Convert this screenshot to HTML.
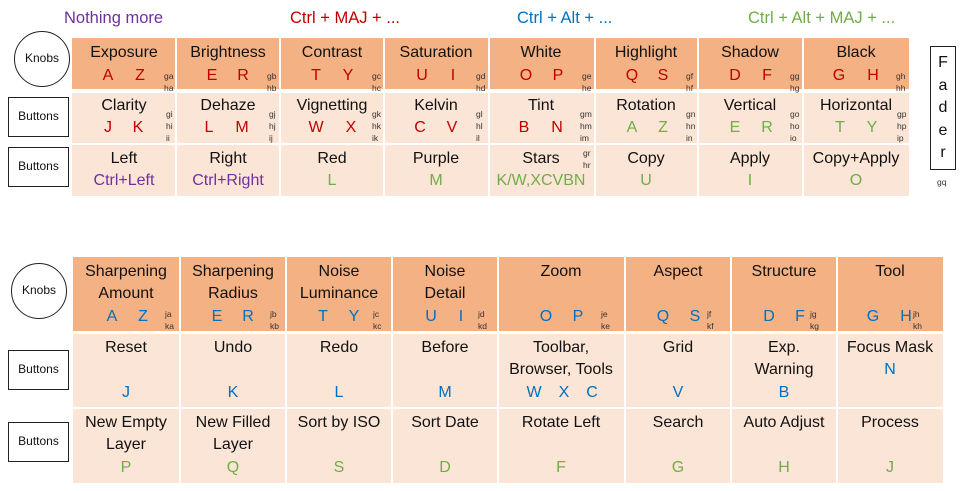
<!DOCTYPE html>
<html><head><meta charset="utf-8">
<style>
body{margin:0;width:960px;height:491px;background:#fff;position:relative;overflow:hidden;font-family:"Liberation Sans",sans-serif;color:#111}
.c{position:absolute;box-sizing:border-box}
.o{background:#F4B183}.l{background:#FBE5D6}
.t{position:absolute;height:22px;line-height:22px;text-align:center;white-space:nowrap;font-size:16px;width:160px;margin-left:-80px}
.k{position:absolute;height:22px;line-height:22px;text-align:center;white-space:nowrap;font-size:16px;width:40px;margin-left:-20px}
.s{position:absolute;font-size:8.5px;line-height:12px;color:#333;white-space:nowrap}
.r{color:#C00000}.g{color:#70AD47}.b{color:#0070C0}.p{color:#7030A0}
.h{position:absolute;top:7px;font-size:16.5px;white-space:nowrap;height:22px;line-height:22px}
.circ{position:absolute;border:1.5px solid #222;border-radius:50%;box-sizing:border-box;font-size:12px;text-align:center}
.box{position:absolute;border:1.5px solid #222;box-sizing:border-box;font-size:12px;text-align:center}
</style></head><body>
<div class="h p" style="left:64px">Nothing more</div>
<div class="h r" style="left:290px">Ctrl + MAJ + ...</div>
<div class="h b" style="left:517px">Ctrl + Alt + ...</div>
<div class="h g" style="left:748px">Ctrl + Alt + MAJ + ...</div>

<div class="circ" style="left:14px;top:31px;width:56px;height:56px;line-height:53px">Knobs</div>
<div class="box" style="left:8px;top:97px;width:61px;height:40px;line-height:37px">Buttons</div>
<div class="box" style="left:8px;top:147px;width:61px;height:40px;line-height:37px">Buttons</div>
<div class="box" style="left:930px;top:46px;width:26px;height:124px;font-size:16px;line-height:22.5px;padding-top:5px">F<br>a<br>d<br>e<br>r</div>
<div class="s" style="left:937px;top:176px">gq</div>

<!-- top table -->
<div class="c o" style="left:72px;top:38px;width:837px;height:51px"></div>
<div class="c l" style="left:72px;top:93px;width:837px;height:50px"></div>
<div class="c l" style="left:72px;top:144px;width:837px;height:52px"></div>
<div class="c" style="left:72px;top:89px;width:837px;height:4px;background:#fff"></div>
<div class="c" style="left:72px;top:143px;width:837px;height:1.5px;background:#fff"></div>
<div class="c" style="left:175px;top:38px;width:2px;height:158px;background:#fff"></div>
<div class="c" style="left:279px;top:38px;width:2px;height:158px;background:#fff"></div>
<div class="c" style="left:383px;top:38px;width:2px;height:158px;background:#fff"></div>
<div class="c" style="left:488px;top:38px;width:2px;height:158px;background:#fff"></div>
<div class="c" style="left:594px;top:38px;width:2px;height:158px;background:#fff"></div>
<div class="c" style="left:697px;top:38px;width:2px;height:158px;background:#fff"></div>
<div class="c" style="left:802px;top:38px;width:2px;height:158px;background:#fff"></div>

<!-- row1 -->
<div class="t" style="left:124px;top:42px">Exposure</div><div class="k r" style="left:108px;top:65px">A</div><div class="k r" style="left:140px;top:65px">Z</div><div class="s" style="left:164px;top:70px">ga<br>ha</div>
<div class="t" style="left:228px;top:42px">Brightness</div><div class="k r" style="left:212px;top:65px">E</div><div class="k r" style="left:243px;top:65px">R</div><div class="s" style="left:267px;top:70px">gb<br>hb</div>
<div class="t" style="left:332px;top:42px">Contrast</div><div class="k r" style="left:316px;top:65px">T</div><div class="k r" style="left:348px;top:65px">Y</div><div class="s" style="left:372px;top:70px">gc<br>hc</div>
<div class="t" style="left:436px;top:42px">Saturation</div><div class="k r" style="left:422px;top:65px">U</div><div class="k r" style="left:453px;top:65px">I</div><div class="s" style="left:476px;top:70px">gd<br>hd</div>
<div class="t" style="left:541px;top:42px">White</div><div class="k r" style="left:526px;top:65px">O</div><div class="k r" style="left:558px;top:65px">P</div><div class="s" style="left:582px;top:70px">ge<br>he</div>
<div class="t" style="left:646px;top:42px">Highlight</div><div class="k r" style="left:632px;top:65px">Q</div><div class="k r" style="left:663px;top:65px">S</div><div class="s" style="left:686px;top:70px">gf<br>hf</div>
<div class="t" style="left:750px;top:42px">Shadow</div><div class="k r" style="left:735px;top:65px">D</div><div class="k r" style="left:767px;top:65px">F</div><div class="s" style="left:790px;top:70px">gg<br>hg</div>
<div class="t" style="left:856px;top:42px">Black</div><div class="k r" style="left:839px;top:65px">G</div><div class="k r" style="left:873px;top:65px">H</div><div class="s" style="left:896px;top:70px">gh<br>hh</div>
<!-- row2 -->
<div class="t" style="left:124px;top:95px">Clarity</div><div class="k r" style="left:108px;top:117px">J</div><div class="k r" style="left:138px;top:117px">K</div><div class="s" style="left:166px;top:108px">gi<br>hi<br>ii</div>
<div class="t" style="left:228px;top:95px">Dehaze</div><div class="k r" style="left:209px;top:117px">L</div><div class="k r" style="left:242px;top:117px">M</div><div class="s" style="left:269px;top:108px">gj<br>hj<br>ij</div>
<div class="t" style="left:332px;top:95px">Vignetting</div><div class="k r" style="left:316px;top:117px">W</div><div class="k r" style="left:351px;top:117px">X</div><div class="s" style="left:372px;top:108px">gk<br>hk<br>ik</div>
<div class="t" style="left:436px;top:95px">Kelvin</div><div class="k r" style="left:420px;top:117px">C</div><div class="k r" style="left:452px;top:117px">V</div><div class="s" style="left:476px;top:108px">gl<br>hl<br>il</div>
<div class="t" style="left:541px;top:95px">Tint</div><div class="k r" style="left:524px;top:117px">B</div><div class="k r" style="left:557px;top:117px">N</div><div class="s" style="left:580px;top:108px">gm<br>hm<br>im</div>
<div class="t" style="left:646px;top:95px">Rotation</div><div class="k g" style="left:632px;top:117px">A</div><div class="k g" style="left:663px;top:117px">Z</div><div class="s" style="left:686px;top:108px">gn<br>hn<br>in</div>
<div class="t" style="left:750px;top:95px">Vertical</div><div class="k g" style="left:735px;top:117px">E</div><div class="k g" style="left:767px;top:117px">R</div><div class="s" style="left:790px;top:108px">go<br>ho<br>io</div>
<div class="t" style="left:856px;top:95px">Horizontal</div><div class="k g" style="left:840px;top:117px">T</div><div class="k g" style="left:872px;top:117px">Y</div><div class="s" style="left:897px;top:108px">gp<br>hp<br>ip</div>
<!-- row3 -->
<div class="t" style="left:124px;top:148px">Left</div><div class="t p" style="left:124px;top:170px">Ctrl+Left</div>
<div class="t" style="left:228px;top:148px">Right</div><div class="t p" style="left:228px;top:170px">Ctrl+Right</div>
<div class="t" style="left:332px;top:148px">Red</div><div class="t g" style="left:332px;top:170px">L</div>
<div class="t" style="left:436px;top:148px">Purple</div><div class="t g" style="left:436px;top:170px">M</div>
<div class="t" style="left:541px;top:148px">Stars</div><div class="t g" style="left:541px;top:170px">K/W,XCVBN</div><div class="s" style="left:583px;top:147px">gr<br>hr</div>
<div class="t" style="left:646px;top:148px">Copy</div><div class="t g" style="left:646px;top:170px">U</div>
<div class="t" style="left:750px;top:148px">Apply</div><div class="t g" style="left:750px;top:170px">I</div>
<div class="t" style="left:856px;top:148px">Copy+Apply</div><div class="t g" style="left:856px;top:170px">O</div>

<!-- bottom labels -->
<div class="circ" style="left:11px;top:263px;width:56px;height:56px;line-height:53px">Knobs</div>
<div class="box" style="left:8px;top:350px;width:61px;height:40px;line-height:37px">Buttons</div>
<div class="box" style="left:8px;top:422px;width:61px;height:40px;line-height:37px">Buttons</div>

<!-- bottom table -->
<div class="c o" style="left:73px;top:257px;width:870px;height:74px"></div>
<div class="c l" style="left:73px;top:333px;width:870px;height:74px"></div>
<div class="c l" style="left:73px;top:409px;width:870px;height:74px"></div>
<div class="c" style="left:73px;top:331px;width:870px;height:2.5px;background:#fff"></div>
<div class="c" style="left:73px;top:407px;width:870px;height:2px;background:#fff"></div>
<div class="c" style="left:179px;top:257px;width:2px;height:226px;background:#fff"></div>
<div class="c" style="left:285px;top:257px;width:2px;height:226px;background:#fff"></div>
<div class="c" style="left:391px;top:257px;width:2px;height:226px;background:#fff"></div>
<div class="c" style="left:497px;top:257px;width:2px;height:226px;background:#fff"></div>
<div class="c" style="left:624px;top:257px;width:2px;height:226px;background:#fff"></div>
<div class="c" style="left:730px;top:257px;width:2px;height:226px;background:#fff"></div>
<div class="c" style="left:836px;top:257px;width:2px;height:226px;background:#fff"></div>

<!-- b row1 -->
<div class="t" style="left:126px;top:261px">Sharpening</div><div class="t" style="left:126px;top:283px">Amount</div><div class="k b" style="left:112px;top:306px">A</div><div class="k b" style="left:143px;top:306px">Z</div><div class="s" style="left:165px;top:308px">ja<br>ka</div>
<div class="t" style="left:233px;top:261px">Sharpening</div><div class="t" style="left:233px;top:283px">Radius</div><div class="k b" style="left:217px;top:306px">E</div><div class="k b" style="left:248px;top:306px">R</div><div class="s" style="left:270px;top:308px">jb<br>kb</div>
<div class="t" style="left:339px;top:261px">Noise</div><div class="t" style="left:339px;top:283px">Luminance</div><div class="k b" style="left:323px;top:306px">T</div><div class="k b" style="left:354px;top:306px">Y</div><div class="s" style="left:373px;top:308px">jc<br>kc</div>
<div class="t" style="left:445px;top:261px">Noise</div><div class="t" style="left:445px;top:283px">Detail</div><div class="k b" style="left:431px;top:306px">U</div><div class="k b" style="left:461px;top:306px">I</div><div class="s" style="left:478px;top:308px">jd<br>kd</div>
<div class="t" style="left:561px;top:261px">Zoom</div><div class="k b" style="left:546px;top:306px">O</div><div class="k b" style="left:578px;top:306px">P</div><div class="s" style="left:601px;top:308px">je<br>ke</div>
<div class="t" style="left:678px;top:261px">Aspect</div><div class="k b" style="left:663px;top:306px">Q</div><div class="k b" style="left:695px;top:306px">S</div><div class="s" style="left:707px;top:308px">jf<br>kf</div>
<div class="t" style="left:784px;top:261px">Structure</div><div class="k b" style="left:769px;top:306px">D</div><div class="k b" style="left:800px;top:306px">F</div><div class="s" style="left:810px;top:308px">jg<br>kg</div>
<div class="t" style="left:890px;top:261px">Tool</div><div class="k b" style="left:873px;top:306px">G</div><div class="k b" style="left:906px;top:306px">H</div><div class="s" style="left:913px;top:308px">jh<br>kh</div>
<!-- b row2 -->
<div class="t" style="left:126px;top:337px">Reset</div><div class="t b" style="left:126px;top:382px">J</div>
<div class="t" style="left:233px;top:337px">Undo</div><div class="t b" style="left:233px;top:382px">K</div>
<div class="t" style="left:339px;top:337px">Redo</div><div class="t b" style="left:339px;top:382px">L</div>
<div class="t" style="left:445px;top:337px">Before</div><div class="t b" style="left:445px;top:382px">M</div>
<div class="t" style="left:561px;top:337px">Toolbar,</div><div class="t" style="left:561px;top:359px">Browser, Tools</div><div class="k b" style="left:534px;top:382px">W</div><div class="k b" style="left:564px;top:382px">X</div><div class="k b" style="left:592px;top:382px">C</div>
<div class="t" style="left:678px;top:337px">Grid</div><div class="t b" style="left:678px;top:382px">V</div>
<div class="t" style="left:784px;top:337px">Exp.</div><div class="t" style="left:784px;top:359px">Warning</div><div class="t b" style="left:784px;top:382px">B</div>
<div class="t" style="left:890px;top:337px">Focus Mask</div><div class="t b" style="left:890px;top:359px">N</div>
<!-- b row3 -->
<div class="t" style="left:126px;top:412px">New Empty</div><div class="t" style="left:126px;top:434px">Layer</div><div class="t g" style="left:126px;top:457px">P</div>
<div class="t" style="left:233px;top:412px">New Filled</div><div class="t" style="left:233px;top:434px">Layer</div><div class="t g" style="left:233px;top:457px">Q</div>
<div class="t" style="left:339px;top:412px">Sort by ISO</div><div class="t g" style="left:339px;top:457px">S</div>
<div class="t" style="left:445px;top:412px">Sort Date</div><div class="t g" style="left:445px;top:457px">D</div>
<div class="t" style="left:561px;top:412px">Rotate Left</div><div class="t g" style="left:561px;top:457px">F</div>
<div class="t" style="left:678px;top:412px">Search</div><div class="t g" style="left:678px;top:457px">G</div>
<div class="t" style="left:784px;top:412px">Auto Adjust</div><div class="t g" style="left:784px;top:457px">H</div>
<div class="t" style="left:890px;top:412px">Process</div><div class="t g" style="left:890px;top:457px">J</div>
</body></html>
